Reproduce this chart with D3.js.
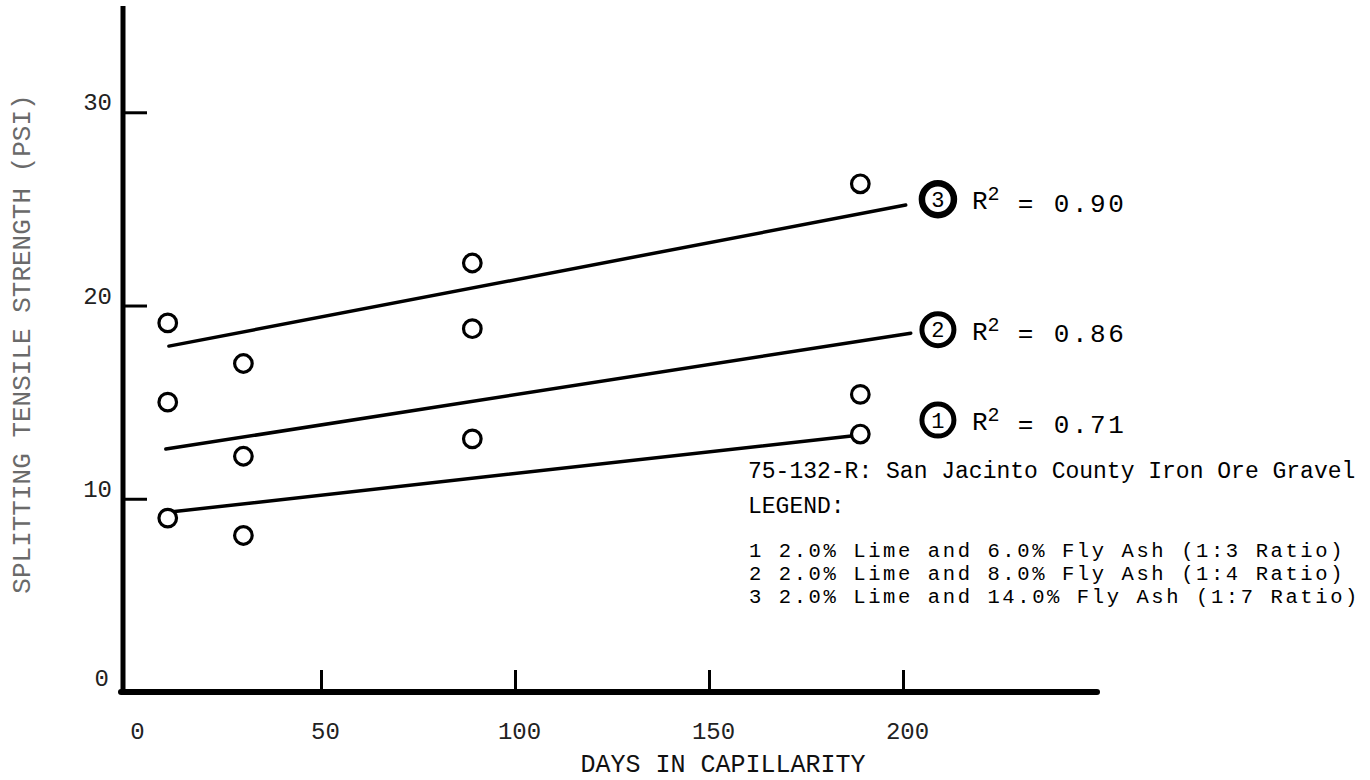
<!DOCTYPE html>
<html>
<head>
<meta charset="utf-8">
<script src="https://cdn.jsdelivr.net/npm/d3@7"></script>
<style>
  body { margin: 0; background: #fff; }
  svg text { font-family: "Liberation Mono", "DejaVu Sans Mono", monospace; }
</style>
</head>
<body>
<svg id="chart" width="1370" height="780"></svg>
<script>
// measured days and strengths, one array per mix
const days = [10.5, 30, 89, 189];
const mix1 = [9.0, 8.1, 13.1, 13.35];
const mix2 = [15.0, 12.2, 18.8, 15.4];
const mix3 = [19.1, 17.0, 22.2, 26.3];

// fitted lines: [start day, start psi, end day, end psi]
const fit1 = [10.5, 9.3, 189, 13.3];
const fit2 = [10, 12.57, 202, 18.57];
const fit3 = [10.8, 17.9, 200.7, 25.2];

const mixNames = ["1", "2", "3"];
const rSquared = ["0.71", "0.86", "0.90"];
const labelDay = 209;
const labelPsi = [14.07, 18.75, 25.5];

const xTicks = [0, 50, 100, 150, 200];
const yTicks = [0, 10, 20, 30];

const sampleTitle = "75-132-R: San Jacinto County Iron Ore Gravel";
const legendItems = [
    "1 2.0% Lime and 6.0% Fly Ash (1:3 Ratio)",
    "2 2.0% Lime and 8.0% Fly Ash (1:4 Ratio)",
    "3 2.0% Lime and 14.0% Fly Ash (1:7 Ratio)"
];

const svg = d3.select("#chart");

const x = d3.scaleLinear().domain([0, 250]).range([127, 1097]);
const y = d3.scaleLinear().domain([0, 35.5]).range([692, 6]);

// tick marks (x axis points up, y axis points right)
const xTickAxis = svg.append("g")
    .attr("transform", `translate(0,${y(0)})`)
    .call(d3.axisBottom(x).tickValues(xTicks.filter(d => d > 0))
        .tickSizeInner(-22).tickSizeOuter(0).tickFormat(""));
xTickAxis.select(".domain").remove();
xTickAxis.selectAll(".tick line").attr("stroke", "#000").attr("stroke-width", 3);

const yTickAxis = svg.append("g")
    .attr("transform", `translate(${x(0) - 4},0)`)
    .call(d3.axisLeft(y).tickValues(yTicks.filter(d => d > 0))
        .tickSizeInner(-24).tickSizeOuter(0).tickFormat(""));
yTickAxis.select(".domain").remove();
yTickAxis.selectAll(".tick line").attr("stroke", "#000").attr("stroke-width", 3);

// labels
const xLabelAxis = svg.append("g")
    .attr("transform", `translate(4,${y(0)})`)
    .call(d3.axisBottom(x).tickValues(xTicks).tickSize(0).tickPadding(30));
xLabelAxis.select(".domain").remove();
xLabelAxis.selectAll("text")
    .style("font-size", "24px").attr("fill", "#222");
xLabelAxis.selectAll("text").filter(d => d === 0).attr("dx", 6);

const yLabelAxis = svg.append("g")
    .attr("transform", `translate(${x(0) - 4},0)`)
    .call(d3.axisLeft(y).tickValues(yTicks).tickSize(0).tickPadding(11));
yLabelAxis.select(".domain").remove();
yLabelAxis.selectAll("text")
    .style("font-size", "24px").attr("fill", "#222").attr("dy", "-0.1em");
yLabelAxis.selectAll("text").filter(d => d === 0).attr("dx", -3).attr("dy", "-0.28em");

// axis lines
svg.append("line")
    .attr("x1", x(0) - 4).attr("x2", x(0) - 4)
    .attr("y1", y(0) + 2).attr("y2", y.range()[1])
    .attr("stroke", "#000").attr("stroke-width", 5);
svg.append("line")
    .attr("x1", x(0) - 6).attr("x2", x(250))
    .attr("y1", y(0)).attr("y2", y(0))
    .attr("stroke", "#000").attr("stroke-width", 6)
    .attr("stroke-linecap", "round");

// fitted lines
const fits = [fit1, fit2, fit3];
svg.selectAll(".fit")
    .data(fits)
    .enter().append("line")
    .attr("class", "fit")
    .attr("x1", d => x(d[0])).attr("y1", d => y(d[1]))
    .attr("x2", d => x(d[2])).attr("y2", d => y(d[3]))
    .attr("stroke", "#000").attr("stroke-width", 3.5)
    .attr("stroke-linecap", "round");

// data points
const points = [];
[mix1, mix2, mix3].forEach(series => {
    series.forEach((v, i) => points.push({ day: days[i], psi: v }));
});
svg.selectAll(".pt")
    .data(points)
    .enter().append("circle")
    .attr("class", "pt")
    .attr("cx", d => x(d.day)).attr("cy", d => y(d.psi))
    .attr("r", 8.8)
    .attr("fill", "#fff").attr("stroke", "#000").attr("stroke-width", 3.2);

// circled numbers with R^2
const tags = svg.selectAll(".tag")
    .data(mixNames)
    .enter().append("g")
    .attr("class", "tag")
    .attr("transform", (d, i) => `translate(${x(labelDay)},${y(labelPsi[i])})`);
tags.append("circle")
    .attr("r", 16)
    .attr("fill", "none").attr("stroke", "#000")
    .attr("stroke-width", (d, i) => i === 2 ? 6.5 : 5);
tags.append("text")
    .attr("text-anchor", "middle").attr("dy", "0.35em")
    .style("font-size", "22px")
    .text(d => d);
const rText = tags.append("text")
    .attr("x", 34).attr("dy", "0.38em")
    .style("font-size", "26px");
rText.append("tspan").text("R");
rText.append("tspan").attr("dy", "-0.45em").style("font-size", "20px").text("2");
rText.append("tspan").attr("dy", "0.45em")
    .attr("xml:space", "preserve").style("white-space", "pre")
    .style("letter-spacing", "2.5px")
    .text((d, i) => ` = ${rSquared[i]}`);

// legend block
svg.append("text")
    .attr("x", 748).attr("y", 478)
    .style("font-size", "23px")
    .text(sampleTitle);
svg.append("text")
    .attr("x", 748).attr("y", 513)
    .style("font-size", "23px")
    .text("LEGEND:");
svg.selectAll(".leg")
    .data(legendItems)
    .enter().append("text")
    .attr("class", "leg")
    .attr("x", 749).attr("y", (d, i) => 557 + i * 23)
    .style("font-size", "20.5px").style("letter-spacing", "2.6px")
    .text(d => d);

// axis titles
svg.append("text")
    .attr("x", 723).attr("y", 772)
    .attr("text-anchor", "middle")
    .style("font-size", "25px").attr("fill", "#111")
    .text("DAYS IN CAPILLARITY");
svg.append("text")
    .attr("transform", "translate(30,344) rotate(-90)")
    .attr("text-anchor", "middle")
    .style("font-size", "26px").attr("fill", "#6a6a6a")
    .text("SPLITTING TENSILE STRENGTH (PSI)");
</script>
</body>
</html>
